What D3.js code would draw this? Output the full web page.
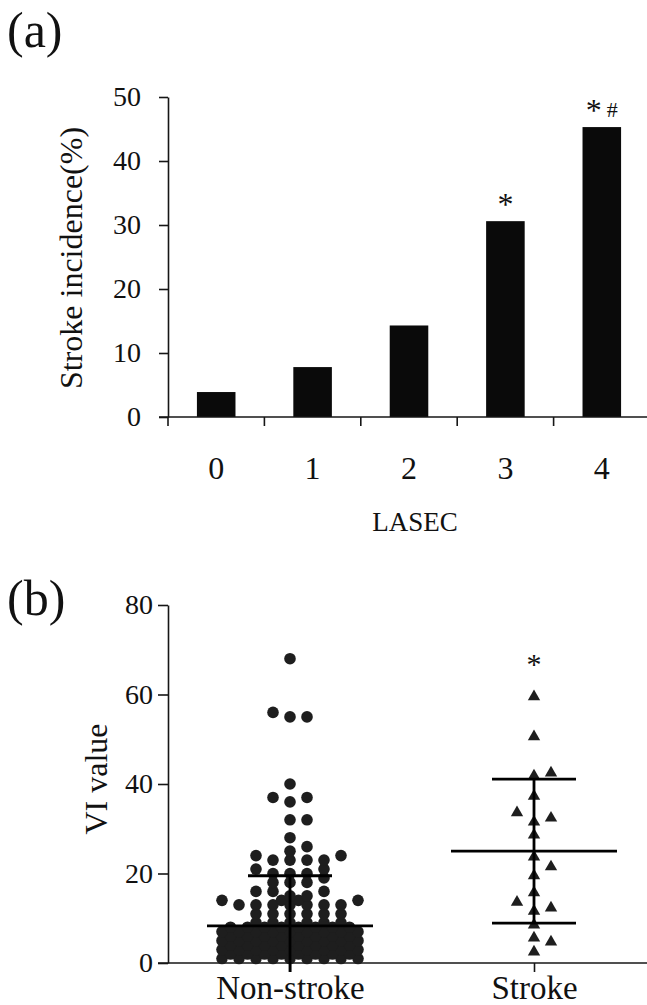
<!DOCTYPE html>
<html>
<head>
<meta charset="utf-8">
<script src="https://cdn.jsdelivr.net/npm/d3@7/dist/d3.min.js"></script>
<style>
  body { margin: 0; background: #fff; }
  text { font-family: "Liberation Serif", "Times New Roman", serif; fill: #111; }
</style>
</head>
<body>
<div id="chart"></div>
<script>
// Panel (a) data
var lasec = ['0', '1', '2', '3', '4'];
var incidence = [3.9, 7.8, 14.3, 30.6, 45.3];
var incidenceTicks = [0, 10, 20, 30, 40, 50];
var sigMarks = [[], [], [], ['*'], ['*', '#']];

// Panel (b) data
var groups = ['Non-stroke', 'Stroke'];
var nonStroke = [68, 56, 55, 55, 40, 37, 37, 36, 32, 32, 28, 26, 25, 24, 24,
  23, 23, 23, 23, 21, 21, 20, 20, 20, 19, 18, 18, 18, 16, 16, 16, 15, 15,
  14, 14, 14, 14, 13, 13, 13, 13, 13, 13, 13, 11, 11, 11, 11, 11, 11,
  9, 9, 9, 9, 9, 9,
  8, 8, 8, 8, 8, 8, 8, 8,
  7, 7, 7, 7, 7, 7, 7, 7, 7,
  6, 6, 6, 6, 6, 6, 6, 6,
  5, 5, 5, 5, 5, 5, 5, 5, 5,
  4, 4, 4, 4, 4, 4, 4, 4,
  3, 3, 3, 3, 3, 3, 3, 3, 3,
  2, 2, 2, 2, 2, 2, 2, 2,
  1, 1, 1, 1, 1, 1, 1, 1, 1];
var stroke = [59.5, 50.6, 42.5, 41.8, 37.3, 33.6, 32.4, 31.5, 28.6, 23.7,
  21.5, 19.5, 15.7, 13.6, 12.3, 11.6, 8.5, 5.6, 4.7, 2.5];
var groupMean = [8.3, 25.0];
var groupSD = [11.2, 16.1];
var viTicks = [0, 20, 40, 60, 80];

var width = 647, height = 1005;
var ink = '#161616';
var serif = '"Liberation Serif", "Times New Roman", serif';

var svg = d3.select('#chart')
  .append('svg')
  .attr('width', width)
  .attr('height', height);

function styleAxis(g, fs) {
  g.attr('font-family', null);
  g.selectAll('text')
    .attr('font-family', serif)
    .attr('font-size', fs)
    .attr('fill', ink);
  g.selectAll('line, path').attr('stroke', ink).attr('stroke-width', 1.6);
}

// ---------- Panel (a) ----------
var xA = d3.scaleBand()
  .domain(lasec)
  .range([168, 650])
  .paddingInner(0.6)
  .paddingOuter(0.3);

var yA = d3.scaleLinear()
  .domain([0, 50])
  .range([417, 97]);

var gA = svg.append('g');

gA.append('text')
  .attr('x', 7)
  .attr('y', 47)
  .attr('font-size', 50)
  .text('(a)');

gA.selectAll('rect.bar')
  .data(incidence)
  .enter()
  .append('rect')
  .attr('class', 'bar')
  .attr('x', (d, i) => xA(lasec[i]))
  .attr('y', d => yA(d))
  .attr('width', xA.bandwidth())
  .attr('height', d => yA(0) - yA(d))
  .attr('fill', '#0a0a0a');

// y axis
gA.append('g')
  .attr('transform', 'translate(168,0)')
  .call(d3.axisLeft(yA).tickValues(incidenceTicks).tickSize(9).tickSizeOuter(0).tickPadding(18))
  .call(styleAxis, 28);

// x axis line + boundary ticks
gA.append('line')
  .attr('x1', 159).attr('x2', width)
  .attr('y1', yA(0)).attr('y2', yA(0))
  .attr('stroke', ink).attr('stroke-width', 1.6);

gA.selectAll('line.xtick')
  .data(lasec)
  .enter()
  .append('line')
  .attr('class', 'xtick')
  .attr('x1', d => xA(d) - xA.step() * 0.3)
  .attr('x2', d => xA(d) - xA.step() * 0.3)
  .attr('y1', yA(0))
  .attr('y2', yA(0) + 9)
  .attr('stroke', ink).attr('stroke-width', 1.6);

gA.selectAll('text.xlab')
  .data(lasec)
  .enter()
  .append('text')
  .attr('class', 'xlab')
  .attr('x', d => xA(d) + xA.bandwidth() / 2)
  .attr('y', 479)
  .attr('text-anchor', 'middle')
  .attr('font-size', 32)
  .text(d => d);

gA.append('text')
  .attr('x', 415)
  .attr('y', 531)
  .attr('text-anchor', 'middle')
  .attr('font-size', 27)
  .text('LASEC');

gA.append('text')
  .attr('transform', 'translate(82,258) rotate(-90)')
  .attr('text-anchor', 'middle')
  .attr('font-size', 32)
  .text('Stroke incidence(%)');

// significance marks
var markG = gA.selectAll('text.sig')
  .data(sigMarks)
  .enter()
  .append('text')
  .attr('class', 'sig')
  .attr('x', (d, i) => xA(lasec[i]) + xA.bandwidth() / 2)
  .attr('y', (d, i) => yA(incidence[i]) - 6)
  .attr('text-anchor', 'middle');
markG.selectAll('tspan')
  .data(d => d)
  .enter()
  .append('tspan')
  .attr('font-size', d => d === '#' ? 22 : 32)
  .attr('dx', (d, i) => i ? 5 : 0)
  .attr('dy', d => d === '#' ? -4 : 0)
  .text(d => d);

// ---------- Panel (b) ----------
var xB = d3.scalePoint()
  .domain(groups)
  .range([168, 656])
  .padding(0.5);

var yB = d3.scaleLinear()
  .domain([0, 80])
  .range([963, 605]);

var gB = svg.append('g');

gB.append('text')
  .attr('x', 7)
  .attr('y', 615)
  .attr('font-size', 50)
  .text('(b)');

gB.append('g')
  .attr('transform', 'translate(168,0)')
  .call(d3.axisLeft(yB).tickValues(viTicks).tickSize(10).tickSizeOuter(0).tickPadding(5))
  .call(styleAxis, 28);

gB.append('line')
  .attr('x1', 158).attr('x2', width)
  .attr('y1', yB(0)).attr('y2', yB(0))
  .attr('stroke', ink).attr('stroke-width', 1.6);

var xAxisB = gB.append('g')
  .attr('transform', 'translate(0,' + yB(0) + ')')
  .call(d3.axisBottom(xB).tickSize(9).tickSizeOuter(0).tickPadding(4))
  .call(styleAxis, 33);
xAxisB.select('path').remove();

gB.append('text')
  .attr('transform', 'translate(107,779) rotate(-90)')
  .attr('text-anchor', 'middle')
  .attr('font-size', 32)
  .text('VI value');

// simple discrete beeswarm: full columns first, then half columns
var colStep = 17;
var slots = [0];
for (var k = 1; k <= 4; k++) slots.push(k, -k);
for (var k = 0; k < 4; k++) slots.push(k + 0.5, -(k + 0.5));
for (var k = 5; k <= 8; k++) slots.push(k, -k, k - 0.5, -(k - 0.5));

function swarm(values, minDist) {
  var placed = [];
  values.slice().sort(d3.ascending).forEach(function (v) {
    var y = yB(v);
    for (var s = 0; s < slots.length; s++) {
      var dx = slots[s] * colStep;
      var ok = placed.every(p => Math.hypot(p.dx - dx, p.y - y) >= minDist);
      if (ok) { placed.push({ v: v, dx: dx, y: y }); break; }
    }
  });
  return placed;
}

var nsPts = swarm(nonStroke, 8.8);
var stPts = swarm(stroke, 12);

gB.selectAll('circle.ns')
  .data(nsPts)
  .enter()
  .append('circle')
  .attr('class', 'ns')
  .attr('cx', d => xB(groups[0]) + d.dx)
  .attr('cy', d => d.y)
  .attr('r', 5.8)
  .attr('fill', '#1e1e1e');

gB.selectAll('path.st')
  .data(stPts)
  .enter()
  .append('path')
  .attr('class', 'st')
  .attr('d', d3.symbol().type(d3.symbolTriangle).size(66))
  .attr('transform', d => 'translate(' + (xB(groups[1]) + d.dx) + ',' + d.y + ')')
  .attr('fill', '#1e1e1e');

// mean and SD bars
groups.forEach(function (g, i) {
  var cx = xB(g);
  var top = groupMean[i] + groupSD[i];
  var bot = Math.max(groupMean[i] - groupSD[i], -2);
  var lw = 2.8;
  gB.append('line')
    .attr('x1', cx).attr('x2', cx)
    .attr('y1', yB(top)).attr('y2', yB(bot))
    .attr('stroke', '#000').attr('stroke-width', lw);
  gB.append('line')
    .attr('x1', cx - 83).attr('x2', cx + 83)
    .attr('y1', yB(groupMean[i])).attr('y2', yB(groupMean[i]))
    .attr('stroke', '#000').attr('stroke-width', lw);
  gB.append('line')
    .attr('x1', cx - 42).attr('x2', cx + 42)
    .attr('y1', yB(top)).attr('y2', yB(top))
    .attr('stroke', '#000').attr('stroke-width', lw);
  if (groupMean[i] - groupSD[i] > 0) {
    gB.append('line')
      .attr('x1', cx - 42).attr('x2', cx + 42)
      .attr('y1', yB(groupMean[i] - groupSD[i])).attr('y2', yB(groupMean[i] - groupSD[i]))
      .attr('stroke', '#000').attr('stroke-width', lw);
  }
});

gB.append('text')
  .attr('x', xB(groups[1]))
  .attr('y', 674)
  .attr('text-anchor', 'middle')
  .attr('font-size', 30)
  .text('*');
</script>
</body>
</html>
